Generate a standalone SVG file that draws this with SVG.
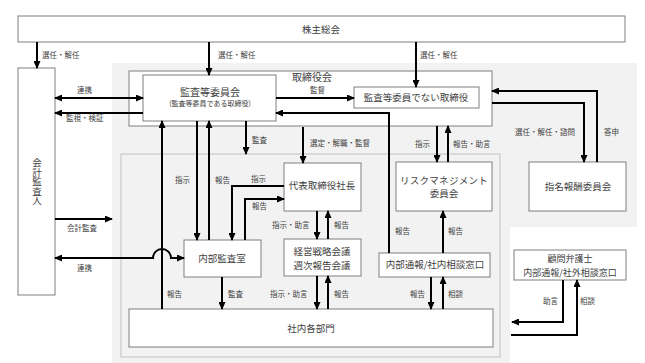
<svg xmlns="http://www.w3.org/2000/svg" width="645" height="363" viewBox="0 0 645 363">
<style>
.box{fill:#fff;stroke:#7f7f7f;stroke-width:1}
.t{font-family:"Noto Sans CJK JP","Noto Sans CJK SC",sans-serif;fill:#404040;font-size:9.5px;text-anchor:middle}
.s{font-family:"Noto Sans CJK JP","Noto Sans CJK SC",sans-serif;fill:#404040;font-size:7.5px}
.c{fill:none;stroke:#000;stroke-width:2}
</style>
<defs>
<marker id="a" markerUnits="userSpaceOnUse" markerWidth="8" markerHeight="7" refX="7" refY="3.5" orient="auto-start-reverse">
<path d="M0,0 L8,3.5 L0,7 z" fill="#000"/>
</marker>
</defs>
<path d="M112,63 H637 V227 H510 V363 H112 Z" fill="#f2f2f2"/>
<rect x="121" y="154" width="379" height="203" fill="#f2f2f2" stroke="#bfbfbf" stroke-width="1"/>
<g id="torishimariyakukai"><rect class="box" x="129" y="71" width="363" height="55"/><text class="t" x="312" y="81" style="font-size:10px">取締役会</text></g>
<g id="kabunushi"><rect class="box" x="18" y="16" width="607" height="26"/><text class="t" x="321" y="33">株主総会</text></g>
<g id="kaikei"><rect class="box" x="18" y="68" width="37" height="227"/><text class="t" x="37" y="158" style="writing-mode:vertical-rl;text-anchor:start">会計監査人</text></g>
<g id="kansatou"><rect class="box" x="143" y="75" width="133" height="46"/><text class="t" x="210" y="96" style="font-size:10px">監査等委員会</text><text class="t" x="210" y="106" style="font-size:7px">(監査等委員である取締役)</text></g>
<g id="hikansa"><rect class="box" x="354" y="87" width="125" height="21"/><text class="t" x="416" y="101">監査等委員でない取締役</text></g>
<g id="shimei"><rect class="box" x="529" y="162" width="97" height="49"/><text class="t" x="578" y="190">指名報酬委員会</text></g>
<g id="daihyo"><rect class="box" x="284" y="163" width="77" height="48"/><text class="t" x="322" y="189">代表取締役社長</text></g>
<g id="risk"><rect class="box" x="396" y="162" width="96" height="49"/><text class="t" x="444" y="184" style="letter-spacing:0.3px">リスクマネジメント</text><text class="t" x="444" y="197">委員会</text></g>
<g id="naibukansa"><rect class="box" x="184" y="240" width="77" height="37"/><text class="t" x="222" y="262">内部監査室</text></g>
<g id="keiei"><rect class="box" x="284" y="239" width="77" height="37"/><text class="t" x="322" y="255">経営戦略会議</text><text class="t" x="322" y="269">週次報告会議</text></g>
<g id="naibutsuho"><rect class="box" x="379" y="253" width="111" height="24"/><text class="t" x="435" y="268">内部通報/社内相談窓口</text></g>
<g id="shanai"><rect class="box" x="129" y="309" width="364" height="38"/><text class="t" x="311" y="332">社内各部門</text></g>
<g id="komon"><rect class="box" x="514" y="250" width="112" height="30"/><text class="t" x="570" y="262" style="font-size:9px">顧問弁護士</text><text class="t" x="570" y="275.5" style="font-size:9px">内部通報/社外相談窓口</text></g>
<g id="connectors">
<path class="c" d="M37,42 V68" marker-end="url(#a)"/>
<path class="c" d="M209,42 V75" marker-end="url(#a)"/>
<path class="c" d="M416,42 V87" marker-end="url(#a)"/>
<path class="c" d="M55,98 H143" marker-start="url(#a)" marker-end="url(#a)"/>
<path class="c" d="M143,113 H55" marker-end="url(#a)"/>
<path class="c" d="M276,98 H354" marker-end="url(#a)"/>
<path class="c" d="M389,253 V113 H276" marker-end="url(#a)"/>
<path class="c" d="M492,103 H584 V162" marker-end="url(#a)"/>
<path class="c" d="M597,162 V91 H492" marker-end="url(#a)"/>
<path class="c" d="M437,126 V162" marker-end="url(#a)"/>
<path class="c" d="M448,162 V126" marker-end="url(#a)"/>
<path class="c" d="M246,121 V154" marker-end="url(#a)"/>
<path class="c" d="M303,127 V163" marker-end="url(#a)"/>
<path class="c" d="M162,309 V121" marker-end="url(#a)"/>
<path class="c" d="M197,121 V240" marker-end="url(#a)"/>
<path class="c" d="M209,240 V121" marker-end="url(#a)"/>
<path class="c" d="M284,186 H232 V240" marker-end="url(#a)"/>
<path class="c" d="M245,240 V199 H284" marker-end="url(#a)"/>
<path class="c" d="M317,211 V239" marker-end="url(#a)"/>
<path class="c" d="M328,239 V211" marker-end="url(#a)"/>
<path class="c" d="M317,276 V309" marker-end="url(#a)"/>
<path class="c" d="M328,309 V276" marker-end="url(#a)"/>
<path class="c" d="M443,253 V211" marker-end="url(#a)"/>
<path class="c" d="M431,277 V309" marker-end="url(#a)"/>
<path class="c" d="M443,309 V277" marker-end="url(#a)"/>
<path class="c" d="M222,277 V309" marker-end="url(#a)"/>
<path class="c" d="M55,219 H112" marker-end="url(#a)"/>
<path class="c" d="M55,258 H153 A8,8 0 0 1 171,258 H184" marker-start="url(#a)" marker-end="url(#a)"/>
<path class="c" d="M563,280 V322 H512" marker-end="url(#a)"/>
<path class="c" d="M511,335 H577 V280" marker-end="url(#a)"/>
</g>
<g id="labels">
<text class="s" x="42" y="58">選任・解任</text>
<text class="s" x="218" y="58">選任・解任</text>
<text class="s" x="420" y="58">選任・解任</text>
<text class="s" x="77" y="93">連携</text>
<text class="s" x="66" y="121">監視・検証</text>
<text class="s" x="310" y="93">監督</text>
<text class="s" x="515" y="135">選任・解任・諮問</text>
<text class="s" x="604" y="135">答申</text>
<text class="s" x="415" y="147">指示</text>
<text class="s" x="453" y="147">報告・助言</text>
<text class="s" x="252" y="143">監査</text>
<text class="s" x="310" y="146">選定・解職・監督</text>
<text class="s" x="175" y="183">指示</text>
<text class="s" x="215" y="183">報告</text>
<text class="s" x="251" y="182">指示</text>
<text class="s" x="252" y="209">報告</text>
<text class="s" x="272" y="228">指示・助言</text>
<text class="s" x="334" y="228">報告</text>
<text class="s" x="67" y="231">会計監査</text>
<text class="s" x="395" y="234">報告</text>
<text class="s" x="448" y="234">報告</text>
<text class="s" x="77" y="271">連携</text>
<text class="s" x="167" y="297">報告</text>
<text class="s" x="228" y="297">監査</text>
<text class="s" x="270" y="297">指示・助言</text>
<text class="s" x="334" y="297">報告</text>
<text class="s" x="410" y="297">報告</text>
<text class="s" x="448" y="297">相談</text>
<text class="s" x="543" y="304">助言</text>
<text class="s" x="580" y="304">相談</text>
</g>
</svg>
